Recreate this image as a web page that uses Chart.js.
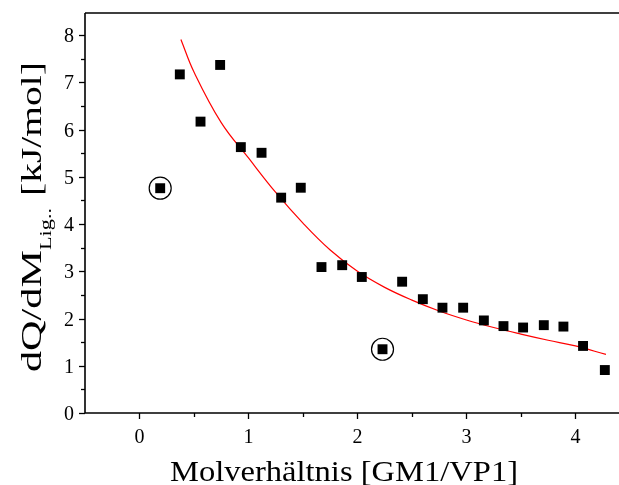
<!DOCTYPE html>
<html>
<head>
<meta charset="utf-8">
<script src="https://cdn.jsdelivr.net/npm/chart.js@4"></script>
<style>
  html, body { margin: 0; padding: 0; background: #fff; overflow: hidden; }
</style>
</head>
<body>
<canvas id="myChart" width="619" height="485"></canvas>
<script>
// Molverhaeltnis GM1/VP1 vs. dQ/dM
const ratio = [0.19, 0.37, 0.56, 0.74, 0.93, 1.12, 1.30, 1.48, 1.67, 1.86, 2.04, 2.23,
               2.41, 2.60, 2.78, 2.97, 3.16, 3.34, 3.52, 3.71, 3.89, 4.07, 4.27];
const heat = [4.76, 7.17, 6.17, 7.37, 5.63, 5.51, 4.56, 4.77, 3.09, 3.13, 2.88, 1.35,
              2.78, 2.41, 2.23, 2.23, 1.96, 1.84, 1.81, 1.86, 1.83, 1.42, 0.91];
// circled outliers
const outlierX = [0.19, 2.23];
const outlierY = [4.76, 1.35];
// red fit curve
const fitX = [0.38, 0.5, 0.75, 1.0, 1.25, 1.5, 1.75, 2.0, 2.25, 2.5, 2.75, 3.0, 3.25, 3.5, 3.75, 4.0, 4.28];
const fitY = [7.91, 7.22, 6.15, 5.4, 4.67, 4.02, 3.45, 3.0, 2.66, 2.39, 2.16, 1.97, 1.81, 1.67, 1.54, 1.42, 1.24];

const xTicks = [0, 0.5, 1, 1.5, 2, 2.5, 3, 3.5, 4];
const yTicks = [0, 0.5, 1, 1.5, 2, 2.5, 3, 3.5, 4, 4.5, 5, 5.5, 6, 6.5, 7, 7.5, 8];

const xy = (xs, ys) => xs.map((x, i) => ({ x: x, y: ys[i] }));

const serif = '"Liberation Serif", "DejaVu Serif", serif';

// draw text stretched to a given length
function fitText(ctx, txt, x, y, len) {
  const w = ctx.measureText(txt).width;
  ctx.save();
  ctx.translate(x, y);
  ctx.scale(len / w, 1);
  ctx.fillText(txt, 0, 0);
  ctx.restore();
}

const axesPlugin = {
  id: 'axesPlugin',
  afterDraw(chart) {
    const ctx = chart.ctx;
    const a = chart.chartArea;
    const xs = chart.scales.x, ys = chart.scales.y;
    ctx.save();
    ctx.strokeStyle = '#000';
    ctx.lineWidth = 1.6;
    ctx.beginPath();
    ctx.moveTo(a.left, a.top); ctx.lineTo(a.right + 2, a.top);
    ctx.moveTo(a.left, a.top); ctx.lineTo(a.left, a.bottom);
    ctx.moveTo(a.left, a.bottom); ctx.lineTo(a.right + 2, a.bottom);
    ctx.stroke();

    ctx.lineWidth = 1.3;
    ctx.fillStyle = '#000';
    ctx.font = '20px ' + serif;
    // y ticks
    ctx.textAlign = 'right';
    ctx.textBaseline = 'middle';
    yTicks.forEach(v => {
      const p = Math.round(ys.getPixelForValue(v)) + 0.5;
      const major = Number.isInteger(v);
      ctx.beginPath();
      ctx.moveTo(a.left, p); ctx.lineTo(a.left - (major ? 6 : 4), p);
      ctx.stroke();
      if (major) ctx.fillText(String(v), a.left - 11, p + 1);
    });
    // x ticks
    ctx.textAlign = 'center';
    ctx.textBaseline = 'alphabetic';
    xTicks.forEach(v => {
      const p = Math.round(xs.getPixelForValue(v)) + 0.5;
      const major = Number.isInteger(v);
      ctx.beginPath();
      ctx.moveTo(p, a.bottom); ctx.lineTo(p, a.bottom + (major ? 6 : 4));
      ctx.stroke();
      if (major) ctx.fillText(String(v), p, a.bottom + 30);
    });

    // x title
    ctx.textAlign = 'left';
    ctx.font = '30px ' + serif;
    fitText(ctx, 'Molverhältnis [GM1/VP1]', 170, 481, 348);

    // y title with subscript
    ctx.translate(41, 372);
    ctx.rotate(-Math.PI / 2);
    ctx.font = '30px ' + serif;
    fitText(ctx, 'dQ/dM', 0, 0, 122);
    ctx.font = '17px ' + serif;
    fitText(ctx, 'Lig..', 122, 10, 42);
    ctx.font = '30px ' + serif;
    fitText(ctx, '[kJ/mol]', 176, 0, 134);
    ctx.restore();
  }
};

const config = {
  type: 'scatter',
  data: {
    datasets: [
      {
        label: 'Messwerte',
        data: xy(ratio, heat),
        pointStyle: 'rect',
        pointRadius: 7,
        backgroundColor: '#000',
        borderColor: '#000',
        borderWidth: 0
      },
      {
        label: 'Ausreisser',
        data: xy(outlierX, outlierY),
        pointStyle: 'circle',
        pointRadius: 11,
        backgroundColor: 'rgba(0,0,0,0)',
        borderColor: '#000',
        borderWidth: 1.2
      },
      {
        type: 'line',
        label: 'Fit',
        data: xy(fitX, fitY),
        showLine: true,
        fill: false,
        pointRadius: 0,
        borderColor: '#ff0000',
        borderWidth: 1.2,
        tension: 0.4
      }
    ]
  },
  options: {
    responsive: false,
    animation: false,
    layout: { autoPadding: false, padding: { left: 85, top: 13, right: 0, bottom: 72 } },
    plugins: { legend: { display: false }, tooltip: { enabled: false } },
    scales: {
      x: { type: 'linear', min: -0.5, max: 4.4, display: false, ticks: { display: false } },
      y: { type: 'linear', min: 0, max: 8.47, display: false, ticks: { display: false } }
    }
  },
  plugins: [axesPlugin]
};

var myChart = new Chart(document.getElementById('myChart'), config);
</script>
</body>
</html>
